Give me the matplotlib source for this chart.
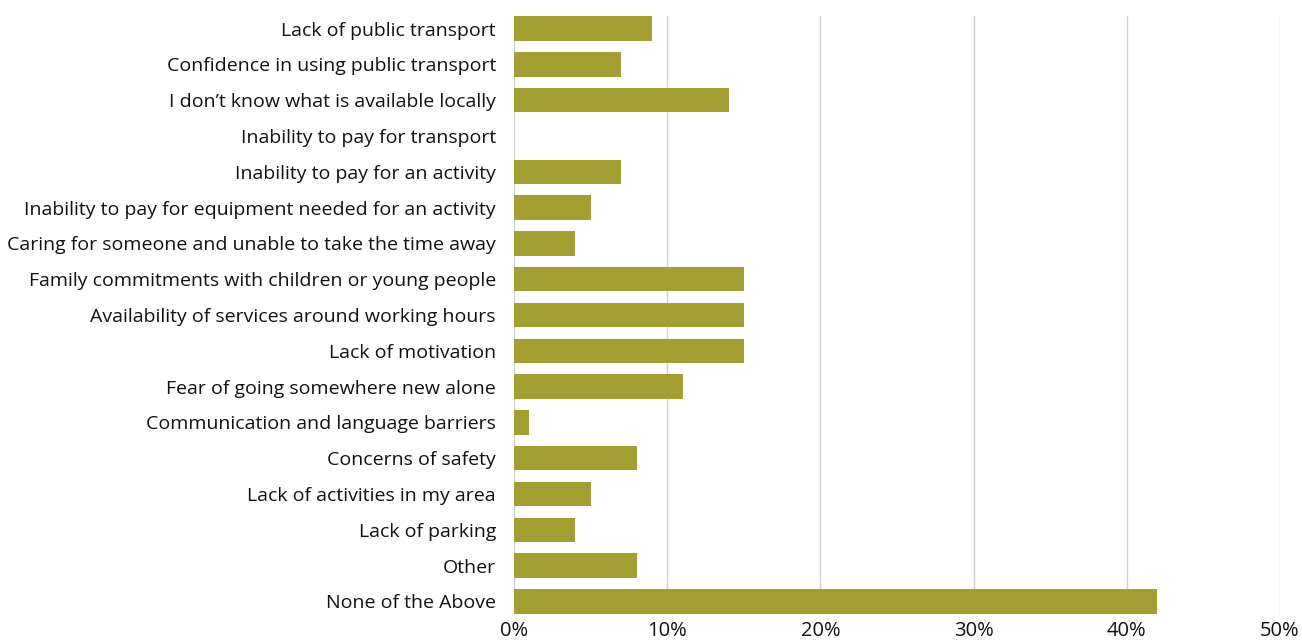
import matplotlib
matplotlib.use("Agg")
import matplotlib.pyplot as plt
from matplotlib.ticker import PercentFormatter

categories = [
    "Lack of public transport",
    "Confidence in using public transport",
    "I don\u2019t know what is available locally",
    "Inability to pay for transport",
    "Inability to pay for an activity",
    "Inability to pay for equipment needed for an activity",
    "Caring for someone and unable to take the time away",
    "Family commitments with children or young people",
    "Availability of services around working hours",
    "Lack of motivation",
    "Fear of going somewhere new alone",
    "Communication and language barriers",
    "Concerns of safety",
    "Lack of activities in my area",
    "Lack of parking",
    "Other",
    "None of the Above",
]
percentages = [9, 7, 14, 0, 7, 5, 4, 15, 15, 15, 11, 1, 8, 5, 4, 8, 42]
x_ticks = [0, 10, 20, 30, 40, 50]

plt.rcParams["font.family"] = ["Open Sans", "DejaVu Sans"]

fig = plt.figure(figsize=(13.02, 6.42), dpi=100)
ax = fig.add_axes([0.3948, 0.0436, 0.5883, 0.9314])

ypos = list(range(len(categories)))
ax.barh(ypos, percentages, height=0.68, color="#A39F33", zorder=3)

ax.set_ylim(16.35, -0.35)
ax.set_xlim(0, 50)
ax.set_xticks(x_ticks)
ax.xaxis.set_major_formatter(PercentFormatter(decimals=0))
ax.set_yticks(ypos)
ax.set_yticklabels(categories)

ax.grid(axis="x", color="#D0D0D0", linewidth=1, zorder=0)
for s in ax.spines.values():
    s.set_visible(False)
ax.tick_params(axis="both", length=0, labelsize=14, colors="#111111")
ax.tick_params(axis="y", pad=13)
ax.tick_params(axis="x", labelsize=14.5, pad=5)

fig.savefig("out.png", dpi=100)
